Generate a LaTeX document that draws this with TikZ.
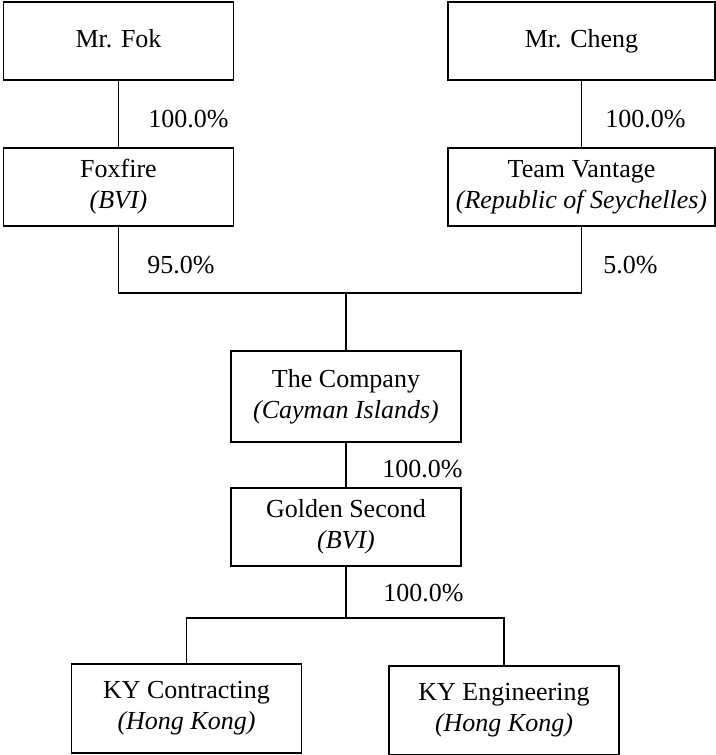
\documentclass[tikz,border=0pt]{standalone}
\usepackage{fontspec}
\setmainfont{Liberation Serif}
\usetikzlibrary{positioning}

\begin{document}
\begin{tikzpicture}[x=0.5pt, y=-0.5pt,
  entity/.style={draw, line width=0.9pt, align=center, inner sep=0pt,
    minimum width=115pt, minimum height=39pt, font=\fontsize{13}{15.5}\selectfont},
  link/.style={line width=0.6pt},
  share/.style={right, inner sep=0pt, font=\fontsize{13}{15}\selectfont}]

  \useasboundingbox (0,0) rectangle (716,755);

  % --- Shareholders ---
  \node[entity] (fok) at (118.5,41) {\strut Mr. Fok};
  \node[entity, minimum width=133.5pt] (cheng) at (581.5,41) {\strut Mr. Cheng};

  % --- Holding vehicles ---
  \node[entity] (foxfire) at (118.5,187) {Foxfire\\\textit{(BVI)}};
  \node[entity, minimum width=133.5pt] (vantage) at (581.5,187)
    {Team Vantage\\\textit{(Republic of Seychelles)}};

  % --- Listed company and subsidiaries ---
  \node[entity, minimum height=45.5pt] (company) at (346,396.5)
    {The Company\\\textit{(Cayman Islands)}};
  \node[entity] (golden) at (346,527) {Golden Second\\\textit{(BVI)}};
  \node[entity, minimum height=44.5pt] (contracting) at (186.5,708.5)
    {KY Contracting\\\textit{(Hong Kong)}};
  \node[entity, minimum height=44.5pt] (engineering) at (504,710.5)
    {KY Engineering\\\textit{(Hong Kong)}};

  % Junction points
  \coordinate (join) at (346,293);
  \coordinate (split) at (346,618);

  % --- Ownership lines ---
  \draw[link] (fok) -- (foxfire);
  \draw[link] (cheng) -- (vantage);
  \draw[link] (foxfire.south) |- (join) -| (vantage.south);
  \draw[link] (join) -- (company.north);
  \draw[link] (company) -- (golden);
  \draw[link] (golden.south) -- (split);
  \draw[link] (contracting.north) |- (split) -| (engineering.north);

  % --- Percentages ---
  \node[share] (pfok) at (148,119) {100.0\%};
  \node[share] (pcheng) at (605,119) {100.0\%};
  \node[share] (pfoxfire) at (147,265) {95.0\%};
  \node[share] (pvantage) at (603,265) {5.0\%};
  \node[share] (pcompany) at (382,469) {100.0\%};
  \node[share] (pgolden) at (383,593) {100.0\%};

\end{tikzpicture}
\end{document}
